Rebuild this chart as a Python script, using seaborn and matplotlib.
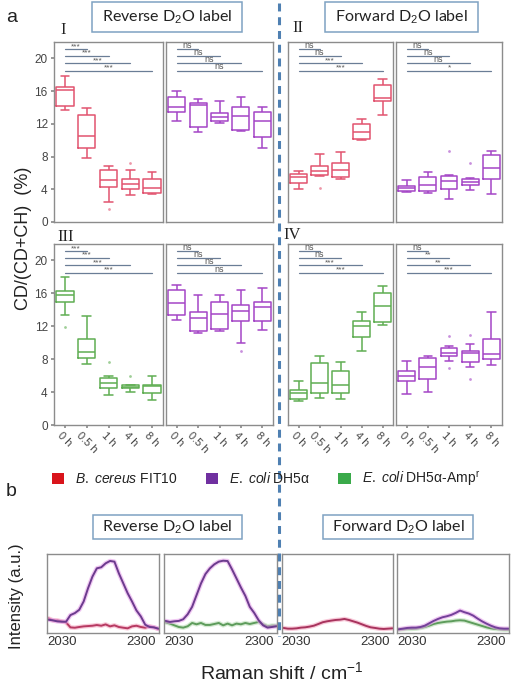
import numpy as np
import pandas as pd
import matplotlib
matplotlib.use("Agg")
import matplotlib.pyplot as plt
import seaborn as sns
from matplotlib.patches import Rectangle, Patch
from matplotlib.lines import Line2D

sns.set_theme(style="white")
plt.rcParams['font.family'] = ['Liberation Sans', 'DejaVu Sans']
plt.rcParams['mathtext.fontset'] = 'custom'
plt.rcParams['mathtext.rm'] = 'Liberation Sans'
plt.rcParams['mathtext.it'] = 'Liberation Sans:italic'

# ---------------- data ----------------
times = ["0 h", "0.5 h", "1 h", "4 h", "8 h"]

# five-number summaries per time point: [min, Q1, median, Q3, max]  (CD/(CD+CH) %)
I_bcereus = [[13.7, 14.2, 16.1, 16.5, 17.8], [7.8, 9.0, 10.5, 13.1, 13.9], [2.5, 4.3, 5.1, 6.3, 6.9],
             [3.3, 4.0, 4.6, 5.3, 6.3], [3.4, 3.6, 4.1, 5.2, 6.1]]
I_ecoli = [[12.4, 13.4, 14.1, 15.3, 16.0], [11.0, 11.6, 14.3, 14.5, 15.0], [12.1, 12.3, 12.8, 13.3, 14.8],
           [11.1, 11.3, 12.9, 14.1, 15.3], [9.0, 10.4, 12.3, 13.5, 14.1]]
II_bcereus = [[4.0, 4.8, 5.5, 5.9, 6.2], [5.6, 5.8, 6.2, 6.8, 8.25], [5.2, 5.5, 6.3, 7.2, 8.6],
              [10.0, 10.2, 11.0, 12.0, 12.6], [13.1, 14.8, 15.2, 16.7, 17.5]]
II_ecoli = [[3.7, 3.75, 4.1, 4.35, 5.1], [3.5, 3.8, 4.5, 5.5, 6.1], [2.8, 4.0, 5.0, 5.6, 5.8],
            [3.9, 4.5, 4.9, 5.2, 5.4], [3.4, 5.2, 6.6, 8.2, 8.7]]
III_amp = [[13.4, 14.9, 15.8, 16.3, 18.0], [7.4, 8.1, 8.9, 10.4, 13.2], [3.7, 4.5, 5.05, 5.7, 5.9],
           [4.0, 4.45, 4.65, 4.85, 4.9], [3.0, 3.9, 4.8, 4.85, 5.9]]
III_ecoli = [[12.8, 13.4, 14.8, 16.4, 17.0], [11.2, 11.4, 13.05, 13.7, 15.8], [11.4, 11.7, 13.5, 14.95, 15.8],
             [10.0, 12.6, 13.9, 14.6, 16.4], [11.6, 12.6, 14.3, 15.0, 16.7]]
IV_amp = [[2.95, 3.2, 3.9, 4.3, 5.3], [3.3, 3.9, 5.1, 7.55, 8.4], [3.2, 3.9, 4.85, 6.6, 7.6],
          [9.0, 10.7, 12.0, 12.7, 13.7], [12.1, 12.5, 14.5, 16.0, 16.9]]
IV_ecoli = [[3.8, 5.4, 5.9, 6.6, 7.8], [4.0, 5.65, 7.1, 8.1, 8.4], [7.8, 8.4, 8.8, 9.3, 9.6],
            [7.0, 7.6, 8.7, 9.0, 9.8], [7.3, 8.0, 8.6, 10.5, 13.7]]

# outliers: (time index, value)
I_bcereus_out = [(2, 1.6), (3, 7.2)]
I_ecoli_out = []
II_bcereus_out = [(1, 4.2)]
II_ecoli_out = [(2, 8.7), (3, 7.2)]
III_amp_out = [(0, 11.9), (2, 7.7), (3, 6.0)]
III_ecoli_out = [(3, 9.0)]
IV_amp_out = []
IV_ecoli_out = [(2, 10.8), (2, 6.9), (3, 11.0), (3, 5.65)]

# significance vs 0 h (0.5 h, 1 h, 4 h, 8 h)
I_bcereus_sig = ["***", "***", "***", "***"]
I_ecoli_sig = ["ns", "ns", "ns", "ns"]
II_bcereus_sig = ["ns", "ns", "***", "***"]
II_ecoli_sig = ["ns", "ns", "ns", "*"]
III_amp_sig = ["***", "***", "***", "***"]
III_ecoli_sig = ["ns", "ns", "ns", "ns"]
IV_amp_sig = ["ns", "ns", "***", "***"]
IV_ecoli_sig = ["ns", "**", "**", "***"]

# Raman spectra (C-D region)
wavenumber = [1985, 2000, 2015, 2030, 2045, 2060, 2075, 2090, 2105, 2120, 2135, 2150, 2165,
              2180, 2195, 2210, 2225, 2240, 2255, 2270, 2285, 2300, 2315, 2330, 2345, 2360]
rev_bc_ecoli = [16.8, 16.0, 14.7, 14.3, 14.3, 22.7, 25.2, 29.4, 39.9, 56.7, 71.4, 81.9, 83.2,
                88.2, 91.2, 90.3, 75.6, 63.0, 50.4, 39.9, 28.6, 21.0, 10.5, 7.6, 7.1, 5.5]
rev_bc_bcereus = [18.5, 16.0, 16.0, 14.7, 13.4, 7.1, 6.7, 7.6, 8.4, 8.8, 9.2, 10.1, 9.2,
                  10.9, 8.4, 9.7, 7.6, 6.7, 5.9, 8.4, 9.2, 7.6, 6.7, 8.4, 7.1, 5.0]
rev_amp_ecoli = [15.3, 14.0, 14.8, 15.3, 17.4, 23.7, 33.1, 47.9, 62.7, 74.6, 81.8, 86.9, 90.3,
                 91.5, 91.1, 80.5, 69.1, 57.6, 47.0, 33.1, 25.4, 16.1, 9.7, 6.8, 7.6, 8.5]
rev_amp_amp = [13.6, 11.9, 9.7, 7.6, 6.8, 8.5, 12.7, 11.0, 12.7, 10.2, 10.2, 11.4, 12.7,
               9.7, 11.9, 9.7, 11.9, 11.0, 12.7, 11.4, 12.7, 14.0, 11.0, 8.5, 9.3, 9.3]
fwd_bc_bcereus = [6.4, 5.5, 5.5, 5.9, 6.8, 7.2, 8.1, 9.3, 11.4, 13.6, 14.8, 15.7, 16.5,
                  16.9, 17.8, 16.5, 14.8, 13.1, 11.0, 8.9, 7.2, 6.4, 5.5, 5.1, 5.5, 5.9]
fwd_amp_ecoli = [4.7, 5.5, 6.4, 6.8, 6.8, 7.6, 9.3, 12.3, 15.3, 17.8, 19.9, 21.2, 22.9,
                 25.4, 28.4, 26.3, 24.6, 22.0, 18.2, 14.8, 11.9, 9.3, 7.2, 5.9, 5.5, 5.5]
fwd_amp_amp = [4.2, 4.7, 5.1, 5.1, 5.5, 6.4, 7.6, 9.3, 11.4, 12.7, 13.6, 14.4, 14.8,
               15.7, 16.1, 15.7, 14.0, 12.3, 10.6, 8.9, 7.2, 5.9, 5.1, 4.7, 4.2, 4.2]

# ---------------- styling ----------------
W, H = 511, 682
C_BC = "#e2536f"
C_EC = "#a445c6"
C_AMP = "#5fae52"
FRAME = "#8c8c8c"
SIGC = "#6a7d96"


def rect(x0, y0, x1, y1):
    return [x0 / W, 1 - y1 / H, (x1 - x0) / W, (y1 - y0) / H]


fig = plt.figure(figsize=(W / 100, H / 100), dpi=100)

cols = [(54, 163), (166, 273), (288, 393), (396, 502)]
rows = [(42, 222), (244, 425)]

panels = [
    (0, 0, I_bcereus, I_bcereus_out, I_bcereus_sig, C_BC),
    (0, 1, I_ecoli, I_ecoli_out, I_ecoli_sig, C_EC),
    (0, 2, II_bcereus, II_bcereus_out, II_bcereus_sig, C_BC),
    (0, 3, II_ecoli, II_ecoli_out, II_ecoli_sig, C_EC),
    (1, 0, III_amp, III_amp_out, III_amp_sig, C_AMP),
    (1, 1, III_ecoli, III_ecoli_out, III_ecoli_sig, C_EC),
    (1, 2, IV_amp, IV_amp_out, IV_amp_sig, C_AMP),
    (1, 3, IV_ecoli, IV_ecoli_out, IV_ecoli_sig, C_EC),
]
sig_levels = [21.1, 20.3, 19.4, 18.5]

for r, c, summ, outs, sigs, color in panels:
    ax = fig.add_axes(rect(cols[c][0], rows[r][0], cols[c][1], rows[r][1]))
    df = pd.DataFrame([(t, v) for t, s in zip(times, summ) for v in s], columns=["time", "value"])
    sns.boxplot(data=df, x="time", y="value", order=times, ax=ax, color=color, fill=False,
                width=0.8, whis=(0, 100), showfliers=False, linewidth=1.1)
    if outs:
        odf = pd.DataFrame([(times[i], v) for i, v in outs], columns=["time", "value"])
        sns.stripplot(data=odf, x="time", y="value", order=times, ax=ax, color=color,
                      jitter=False, size=2, alpha=0.6)
    ax.set_xlim(-0.5, 4.5)
    ax.set_ylim(0, 22)
    ax.set_xlabel("")
    ax.set_ylabel("")
    for k, (lab, yv) in enumerate(zip(sigs, sig_levels), start=1):
        ax.plot([0, k], [yv, yv], color=SIGC, lw=0.9)
        ax.text(k / 2, yv - 0.1, lab, ha="center", va="bottom",
                fontsize=6.5 if lab == "ns" else 6, color="#555555")
    for sp in ax.spines.values():
        sp.set_color(FRAME)
        sp.set_linewidth(1.0)
    if c == 0:
        ax.set_yticks([0, 4, 8, 12, 16, 20])
        ax.tick_params(axis="y", labelsize=8.5, labelcolor="#444444", length=2.5, color=FRAME,
                       left=True, pad=2)
    else:
        ax.set_yticks([])
    if r == 1:
        ax.set_xticks(range(5))
        ax.set_xticklabels(times, rotation=-45, ha="center", va="top", fontsize=8,
                           color="#444444")
        ax.tick_params(axis="x", length=2.5, color=FRAME, bottom=True, pad=1)
    else:
        ax.set_xticks([])

# ---------------- spectra ----------------
spec_cols = [(47, 159), (164, 277), (282, 393), (397, 509)]
spectra = [
    [(rev_bc_bcereus, "#b73a62", "#f4a6c0"), (rev_bc_ecoli, "#6c3b8e", "#e6a2ea")],
    [(rev_amp_amp, "#5e9c5c", "#b9dcb5"), (rev_amp_ecoli, "#6c3b8e", "#e6a2ea")],
    [(fwd_bc_bcereus, "#a8335d", "#f4a6c0")],
    [(fwd_amp_amp, "#5e9c5c", "#b9dcb5"), (fwd_amp_ecoli, "#74409a", "#e6a2ea")],
]
for (x0, x1), curves in zip(spec_cols, spectra):
    ax = fig.add_axes(rect(x0, 554, x1, 633))
    for vals, col, halo in curves:
        sns.lineplot(x=wavenumber, y=vals, ax=ax, color=halo, lw=3.2, alpha=0.6)
        sns.lineplot(x=wavenumber, y=vals, ax=ax, color=col, lw=1.4)
    ax.set_xlim(1980, 2362)
    ax.set_ylim(0, 100)
    ax.set_yticks([])
    ax.set_xticks([2030, 2300])
    ax.set_xticklabels(["2030", "2300"], fontsize=9.5, color="#333333")
    ax.tick_params(axis="x", length=0, pad=2)
    for sp in ax.spines.values():
        sp.set_color(FRAME)
        sp.set_linewidth(1.0)

# ---------------- annotations ----------------
title_kw = dict(ha="center", va="center", fontsize=11.5, family=["Lato", "DejaVu Sans"], color="#222222")
for (x0, y0, x1, y1, txt) in [(92, 2, 242, 32, "Reverse D$_2$O label"),
                              (325, 2, 478, 32, "Forward D$_2$O label"),
                              (93, 515, 242, 539, "Reverse D$_2$O label"),
                              (323, 515, 473, 539, "Forward D$_2$O label")]:
    fig.add_artist(Rectangle((x0 / W, 1 - y1 / H), (x1 - x0) / W, (y1 - y0) / H,
                             transform=fig.transFigure, facecolor="white",
                             edgecolor="#7fa2c2", lw=1.1))
    fig.text((x0 + x1) / 2 / W, 1 - (y0 + y1) / 2 / H, txt, **title_kw)

fig.add_artist(Line2D([279 / W, 279 / W], [1 - 3 / H, 1 - 636 / H], transform=fig.transFigure,
                      color="#4f80b2", lw=2.2, dashes=(2.6, 1.9)))

roman_kw = dict(ha="center", va="center", fontsize=12, family=["Liberation Serif", "DejaVu Serif"],
                color="#222222")
fig.text(63 / W, 1 - 30 / H, "I", **roman_kw)
fig.text(298 / W, 1 - 28 / H, "II", **roman_kw)
fig.text(66 / W, 1 - 237 / H, "III", **roman_kw)
fig.text(292 / W, 1 - 235 / H, "IV", **roman_kw)

fig.text(12 / W, 1 - 17 / H, "a", fontsize=14, ha="center", va="center", color="#222222")
fig.text(11 / W, 1 - 492 / H, "b", fontsize=14, ha="center", va="center", color="#222222")

fig.text(24 / W, 1 - 238 / H, "CD/(CD+CH)  (%)", rotation=90, ha="center", va="center",
         fontsize=13, color="#222222")
fig.text(17 / W, 1 - 596 / H, "Intensity (a.u.)", rotation=90, ha="center", va="center",
         fontsize=12, color="#222222")
fig.text(282 / W, 1 - 672 / H, "Raman shift / cm$^{-1}$", ha="center", va="center",
         fontsize=14, color="#222222")

handles = [Patch(facecolor="#d9141b", edgecolor="none"),
           Patch(facecolor="#7030a0", edgecolor="none"),
           Patch(facecolor="#3aaa4a", edgecolor="none")]
labels = [r"$\it{B.\ cereus}\ $FIT10", r"$\it{E.\ coli}\ $DH5α", r"$\it{E.\ coli}\ $DH5α-Amp$^{\rm r}$"]
fig.legend(handles, labels, loc="center", bbox_to_anchor=(266 / W, 1 - 479 / H), ncol=3,
           frameon=False, fontsize=10, handlelength=0.9, handleheight=0.9, columnspacing=2.0,
           handletextpad=0.8, labelcolor="#222222")

fig.savefig("out.png", dpi=100)
